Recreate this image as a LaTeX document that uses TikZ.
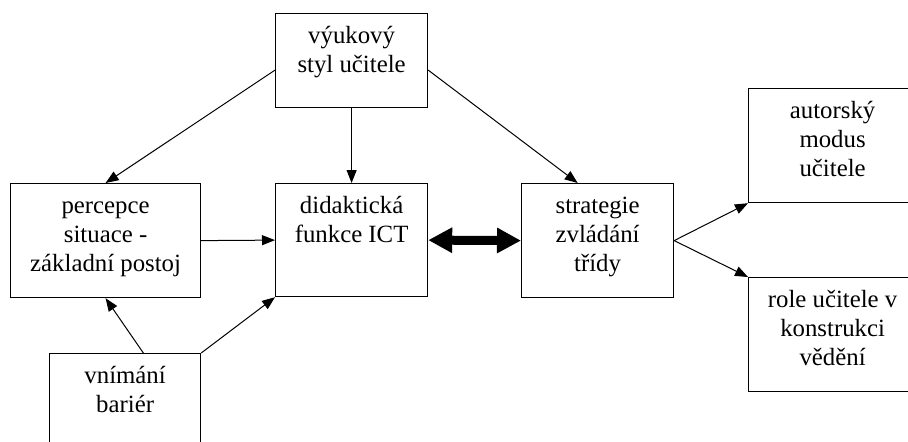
\documentclass[tikz,border=0pt]{standalone}
\usepackage{fontspec}
\setmainfont{Liberation Serif}
\newfontfamily\cellfont{Liberation Serif}
\usetikzlibrary{calc}
\usetikzlibrary{arrows.meta}

% text of a box: fixed size, lines hung from the top
\newcommand{\celltext}[3]{\parbox[c][#1][t]{#2}{\centering\rule{0pt}{15pt}\ignorespaces#3}}

\begin{document}
\begin{tikzpicture}[x=0.5pt, y=-0.5pt,
    box/.style={draw, line width=0.6pt, rectangle, inner sep=0pt, anchor=north west,
      font=\cellfont\fontsize{12.4}{14.5}\selectfont},
    arr/.style={line width=0.5pt, -{Triangle[length=6.5pt, width=5pt]}},
    thickarr/.style={line width=4.5pt, {Triangle[length=12pt, width=12pt]}-{Triangle[length=12pt, width=12pt]}}]
      \useasboundingbox (0, 0) rectangle (908, 441);
      \clip (0, 0) rectangle (908, 441);

      \node[box] (vyuk) at (275, 13) {\celltext{47pt}{76pt}{výukový\\styl učitele}};
      \node[box] (perc) at (10, 183) {\celltext{57pt}{95pt}{percepce\\situace -\\základní postoj}};
      \node[box] (didak) at (275, 183) {\celltext{56.5pt}{76pt}{didaktická\\funkce ICT}};
      \node[box] (strat) at (521, 183) {\celltext{57pt}{76pt}{strategie\\zvládání\\třídy}};
      \node[box] (vnim) at (49, 353) {\celltext{57pt}{75.5pt}{vnímání\\bariér}};
      \node[box] (autor) at (748, 88) {\celltext{57pt}{84pt}{autorský\\modus\\učitele}};
      \node[box] (role) at (748, 277) {\celltext{57pt}{84pt}{role učitele v\\konstrukci\\vědění}};

      \coordinate (vyukL) at ($(vyuk.north west)!0.6!(vyuk.south west)$);
      \coordinate (vyukR) at ($(vyuk.north east)!0.6!(vyuk.south east)$);
      \coordinate (stratTop) at ($(strat.north west)!0.37!(strat.north east)$);
      \coordinate (vnimTop) at ($(vnim.north west)!0.62!(vnim.north east)$);

      \draw[arr] (vyukL) -- (perc.north);
      \draw[arr] (vyuk.south) -- (didak.north);
      \draw[arr] (vyukR) -- (stratTop);
      \draw[arr] (perc.east) -- (didak.west);
      \draw[thickarr] (didak.east) -- (strat.west);
      \draw[arr] (vnimTop) -- (perc.south);
      \draw[arr] (vnim.north east) -- (didak.south west);
      \draw[arr] (strat.east) -- (autor.south west);
      \draw[arr] (strat.east) -- (role.north west);
    \end{tikzpicture}
\end{document}
